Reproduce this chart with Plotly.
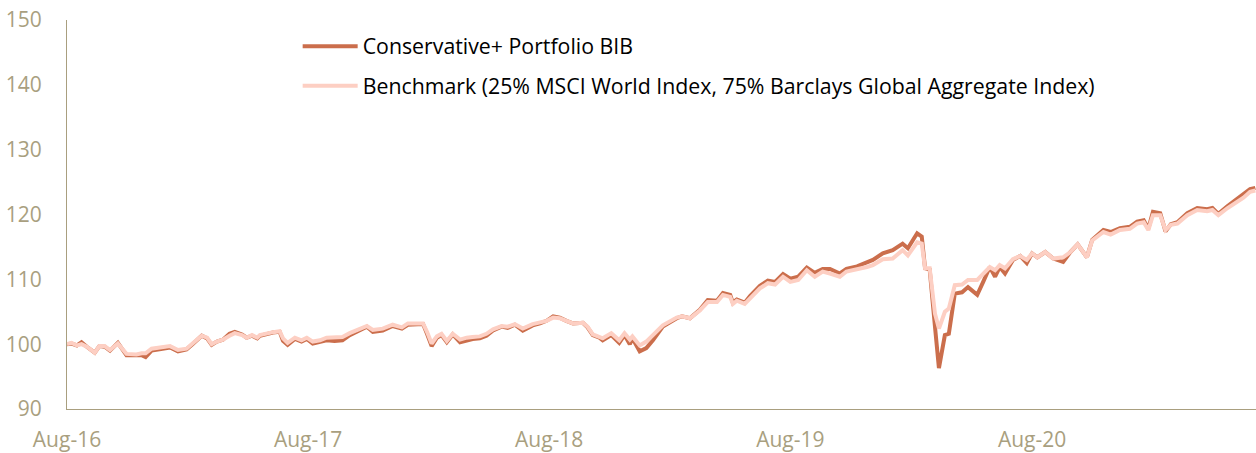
import plotly.graph_objects as go

dates = [
"2016-08-01","2016-08-08","2016-08-16","2016-08-23","2016-08-31","2016-09-12","2016-09-19","2016-09-27",
"2016-10-05","2016-10-17","2016-10-30","2016-11-14","2016-11-22","2016-11-28","2016-12-07","2016-12-19",
"2017-01-04","2017-01-16","2017-01-29","2017-02-07","2017-02-21","2017-03-01","2017-03-08","2017-03-16",
"2017-03-25","2017-04-04","2017-04-12","2017-04-23","2017-04-30","2017-05-08","2017-05-16","2017-05-20",
"2017-05-31","2017-06-09","2017-06-19","2017-06-24","2017-07-01","2017-07-12","2017-07-22","2017-07-30",
"2017-08-08","2017-08-19","2017-08-29","2017-09-10","2017-09-22","2017-10-03","2017-10-15","2017-10-29",
"2017-11-07","2017-11-22","2017-12-07","2017-12-21","2017-12-30","2018-01-13","2018-01-22","2018-01-28",
"2018-02-04","2018-02-12","2018-02-19","2018-02-27","2018-03-08","2018-03-19","2018-03-29","2018-04-07",
"2018-04-18","2018-04-28","2018-05-08","2018-05-21","2018-05-30","2018-06-10","2018-06-22","2018-07-07",
"2018-07-18","2018-07-28","2018-08-07","2018-08-17","2018-08-27","2018-09-06","2018-09-21","2018-09-28",
"2018-10-06","2018-10-16","2018-10-21","2018-11-03","2018-11-15","2018-11-23","2018-12-01","2018-12-05",
"2018-12-16","2018-12-26","2019-01-05","2019-01-15","2019-01-20","2019-02-10","2019-02-18","2019-03-02",
"2019-03-17","2019-03-29","2019-04-12","2019-04-21","2019-05-02","2019-05-06","2019-05-12","2019-05-24",
"2019-06-01","2019-06-16","2019-06-28","2019-07-09","2019-07-21","2019-08-01","2019-08-13","2019-08-26",
"2019-09-07","2019-09-19","2019-09-30","2019-10-15","2019-10-25","2019-11-10","2019-11-25","2019-12-04",
"2019-12-19","2020-01-03","2020-01-18","2020-01-26","2020-02-09","2020-02-16","2020-02-21","2020-02-28",
"2020-03-07","2020-03-13","2020-03-22","2020-03-28","2020-04-06","2020-04-17","2020-04-26","2020-05-10",
"2020-05-19","2020-05-29","2020-06-06","2020-06-13","2020-06-21","2020-07-03","2020-07-14","2020-07-24",
"2020-08-01","2020-08-09","2020-08-21","2020-09-02","2020-09-17","2020-09-28","2020-10-09","2020-10-23",
"2020-10-31","2020-11-17","2020-11-28","2020-12-12","2020-12-27","2021-01-07","2021-01-17","2021-01-24",
"2021-01-31","2021-02-11","2021-02-19","2021-02-27","2021-03-09","2021-03-24","2021-04-08","2021-04-23",
"2021-05-01","2021-05-10","2021-05-24","2021-06-08","2021-06-17","2021-06-27","2021-07-05",
]

benchmark = [
100.0,100.2,99.8,100.0,99.6,98.7,99.7,99.7,
99.1,100.1,98.5,98.4,98.6,98.6,99.3,99.5,
99.7,99.1,99.3,100.1,101.3,101.0,100.0,100.4,
100.7,101.3,101.7,101.4,101.0,101.4,101.0,101.4,
101.7,101.85,102.0,100.9,100.2,101.0,100.6,101.0,
100.4,100.6,101.0,101.0,101.1,101.7,102.2,102.8,
102.2,102.4,103.0,102.6,103.2,103.2,103.2,101.9,
100.1,101.2,101.6,100.5,101.6,100.7,101.0,101.1,
101.2,101.6,102.3,102.8,102.7,103.1,102.4,103.1,
103.3,103.6,104.1,104.0,103.6,103.2,103.3,102.7,
101.5,101.2,100.9,101.7,100.6,101.7,100.7,101.2,
99.8,100.4,101.4,102.4,102.9,104.1,104.3,104.0,
105.2,106.5,106.5,107.6,107.3,106.2,106.7,106.2,
107.1,108.6,109.4,109.2,110.4,109.6,109.9,111.4,
110.4,111.2,110.9,110.4,111.2,111.5,111.9,112.2,
113.1,113.2,114.5,113.7,115.7,115.5,111.7,111.7,
104.7,102.4,105.0,105.5,109.1,109.2,109.9,109.9,
110.9,111.9,111.4,112.2,111.7,113.1,113.6,113.0,
114.0,113.4,114.2,113.2,113.4,114.2,115.4,113.4,
116.0,117.3,116.9,117.6,117.8,118.6,118.8,117.6,
119.9,119.9,117.6,118.4,118.6,119.9,120.7,120.5,
120.7,119.9,121.0,122.0,122.6,123.5,123.7,
]

portfolio = [
100.0,100.1,99.8,100.3,99.6,98.7,99.7,99.6,
99.0,100.2,98.3,98.2,98.3,98.0,99.0,99.2,
99.5,98.9,99.2,100.0,101.3,100.9,99.9,100.4,
100.7,101.6,101.9,101.5,101.0,101.3,100.9,101.3,
101.6,101.8,101.9,100.5,99.9,100.8,100.4,100.8,
100.1,100.3,100.6,100.5,100.6,101.4,102.0,102.7,
101.9,102.1,102.8,102.4,103.0,103.1,103.1,101.6,
99.7,101.0,101.4,100.3,101.5,100.3,100.6,100.8,
100.9,101.3,102.1,102.7,102.5,103.0,102.1,102.9,
103.2,103.6,104.3,104.1,103.6,103.2,103.3,102.6,
101.4,101.0,100.6,101.4,100.2,101.4,100.0,100.9,
98.9,99.4,100.6,101.9,102.7,104.0,104.3,104.0,
105.3,106.8,106.7,107.9,107.6,106.4,106.9,106.4,
107.4,109.0,109.8,109.6,110.8,110.1,110.4,111.8,
111.0,111.6,111.6,110.9,111.6,112.0,112.6,113.0,
114.0,114.5,115.5,114.8,117.1,116.6,111.7,111.5,
102.7,96.3,101.4,101.6,107.8,108.0,108.8,107.6,
109.6,111.9,110.4,111.9,110.9,113.0,113.6,112.5,
114.0,113.4,114.2,113.2,112.7,114.2,115.4,113.4,
116.1,117.6,117.3,117.9,118.1,118.9,119.1,117.8,
120.4,120.2,117.4,118.5,118.8,120.2,121.0,120.8,
121.0,120.1,121.3,122.4,123.0,123.9,124.1,
]

tick_vals = ["2016-08-01","2017-08-01","2018-08-01","2019-08-01","2020-08-01"]
tick_text = ["Aug-16","Aug-17","Aug-18","Aug-19","Aug-20"]
y_ticks = [90,100,110,120,130,140,150]

name_port = "Conservative+ Portfolio BIB"
name_bench = "Benchmark (25% MSCI World Index, 75% Barclays Global Aggregate Index)"

axis_color = "#A99F7F"

fig = go.Figure()
fig.add_trace(go.Scatter(x=dates, y=portfolio, mode="lines", name=name_port,
                         legendgroup="p",
                         line=dict(color="#CB6E4C", width=4)))
fig.add_trace(go.Scatter(x=dates, y=benchmark, mode="lines", name=name_bench,
                         legendgroup="b",
                         line=dict(color="#FDCFC3", width=4)))

fig.update_layout(
    width=1256, height=453,
    margin=dict(l=67, r=0, t=20, b=44),
    paper_bgcolor="white", plot_bgcolor="white",
    font=dict(family="Open Sans", size=21, color="#000000"),
    showlegend=True,
    legend=dict(x=0.194, y=0.985, xanchor="left", yanchor="top",
                bgcolor="rgba(0,0,0,0)", font=dict(size=21.3, color="#000000"),
                tracegroupgap=9, itemwidth=55),
)
fig.update_xaxes(
    type="date", range=["2016-08-01", "2021-07-06"],
    tickmode="array", tickvals=tick_vals, ticktext=tick_text,
    showgrid=False, zeroline=False,
    showline=True, linecolor=axis_color, linewidth=1,
    ticks="", ticklabelstandoff=12, tickfont=dict(color=axis_color, size=21),
)
fig.update_yaxes(
    range=[90, 150], tickmode="array", tickvals=y_ticks,
    showgrid=False, zeroline=False,
    showline=True, linecolor=axis_color, linewidth=1,
    ticks="", ticklabelstandoff=20, tickfont=dict(color=axis_color, size=21),
)

fig.write_html("out.html")
